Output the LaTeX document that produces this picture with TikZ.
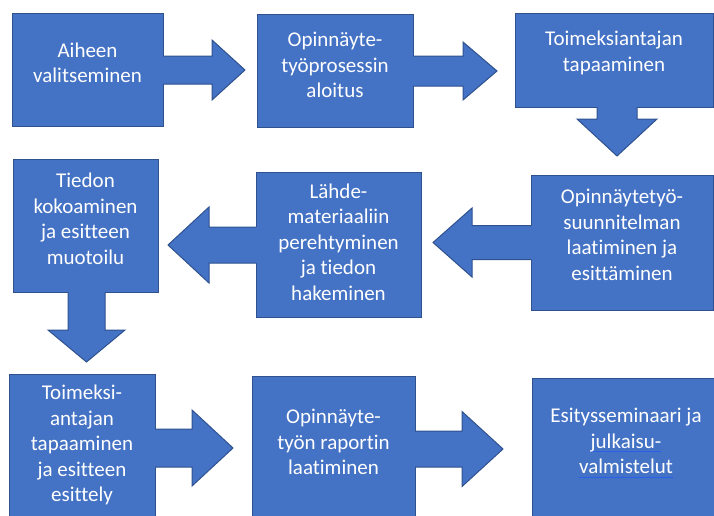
\documentclass[tikz,border=0pt]{standalone}
\usepackage{fontspec}
\setmainfont{Carlito}[Ligatures=NoCommon,RawFeature={-liga;-clig}]
\usetikzlibrary{calc}
\definecolor{boxblue}{HTML}{4472C4}
\definecolor{boxedge}{HTML}{2F528F}
\definecolor{ulblue}{HTML}{2A5FE8}
\newcommand\blueul[1]{\setbox0=\hbox{#1}\rlap{\color{ulblue}\rule[-3.5pt]{\wd0}{0.9pt}}\box0}
% right-pointing block arrow: box, tip, stem half, head half, head length
\newcommand\rarrow[5]{%
  \coordinate (s) at (#1.east|-#2);
  \fill[boxblue] ($(s)+(-1.2,-#3)$) -- ($(#2)+(-#5,-#3)$) -- ($(#2)+(-#5,-#4)$) -- (#2) -- ($(#2)+(-#5,#4)$) -- ($(#2)+(-#5,#3)$) -- ($(s)+(-1.2,#3)$) -- cycle;
  \draw[edge] ($(s)+(0,-#3)$) -- ($(#2)+(-#5,-#3)$) -- ($(#2)+(-#5,-#4)$) -- (#2) -- ($(#2)+(-#5,#4)$) -- ($(#2)+(-#5,#3)$) -- ($(s)+(0,#3)$);}
\newcommand\larrow[5]{%
  \coordinate (s) at (#1.west|-#2);
  \fill[boxblue] ($(s)+(1.2,-#3)$) -- ($(#2)+(#5,-#3)$) -- ($(#2)+(#5,-#4)$) -- (#2) -- ($(#2)+(#5,#4)$) -- ($(#2)+(#5,#3)$) -- ($(s)+(1.2,#3)$) -- cycle;
  \draw[edge] ($(s)+(0,-#3)$) -- ($(#2)+(#5,-#3)$) -- ($(#2)+(#5,-#4)$) -- (#2) -- ($(#2)+(#5,#4)$) -- ($(#2)+(#5,#3)$) -- ($(s)+(0,#3)$);}
\newcommand\darrow[5]{%
  \coordinate (s) at (#1.south-|#2);
  \fill[boxblue] ($(s)+(-#3,-1.2)$) -- ($(#2)+(-#3,-#5)$) -- ($(#2)+(-#4,-#5)$) -- (#2) -- ($(#2)+(#4,-#5)$) -- ($(#2)+(#3,-#5)$) -- ($(s)+(#3,-1.2)$) -- cycle;
  \draw[edge] ($(s)+(-#3,0)$) -- ($(#2)+(-#3,-#5)$) -- ($(#2)+(-#4,-#5)$) -- (#2) -- ($(#2)+(#4,-#5)$) -- ($(#2)+(#3,-#5)$) -- ($(s)+(#3,0)$);}
\begin{document}
\begin{tikzpicture}[x=1pt,y=-1pt,
  edge/.style={draw=boxedge, line width=1pt, line join=miter},
  box/.style={rectangle, fill=boxblue, draw=boxedge, line width=1pt, inner sep=0pt, outer sep=0pt},
  txt/.style={text=white, align=center, inner sep=0pt, font=\fontsize{21}{25.5}\selectfont}]
\useasboundingbox (0,0) rectangle (714,515);
\clip (0,0) rectangle (714,515);
% boxes
\node[box, minimum width=151pt, minimum height=113pt] (b1) at (87.5,69.5) {};
\node[box, minimum width=156pt, minimum height=113pt] (b2) at (335,70.5) {};
\node[box, minimum width=198pt, minimum height=94pt] (b3) at (614,60) {};
\node[box, minimum width=145pt, minimum height=133pt] (b4) at (85.5,225.5) {};
\node[box, minimum width=165pt, minimum height=145pt] (b5) at (338.5,244.5) {};
\node[box, minimum width=182pt, minimum height=135pt] (b6) at (622,242.5) {};
\node[box, minimum width=146pt, minimum height=151pt] (b7) at (82,449.5) {};
\node[box, minimum width=163pt, minimum height=149pt] (b8) at (333.5,450.5) {};
\node[box, minimum width=188pt, minimum height=147pt] (b9) at (626,451.5) {};
% arrow tips
\coordinate (t1) at (245,70);
\coordinate (t2) at (497,71);
\coordinate (t3) at (617,156);
\coordinate (t4) at (86.5,362);
\coordinate (t5) at (168,245);
\coordinate (t6) at (433,242.5);
\coordinate (t7) at (233,448);
\coordinate (t8) at (503,449);
\rarrow{b1}{t1}{14}{30}{33}
\rarrow{b2}{t2}{15}{29}{34}
\darrow{b3}{t3}{20}{40}{37}
\darrow{b4}{t4}{18.5}{38.5}{32}
\larrow{b5}{t5}{18}{38}{41}
\larrow{b6}{t6}{17}{34.5}{39}
\rarrow{b7}{t7}{19}{38}{41}
\rarrow{b8}{t8}{18}{37.5}{41}
% texts
\node[txt] (x1) at (87.5,63) {Aiheen\\valitseminen};
\node[txt] (x2) at (335,65) {Opinnäyte-\\työprosessin\\aloitus};
\node[txt] (x3) at (614,53) {Toimeksiantajan\\tapaaminen};
\node[txt] (x4) at (85.5,219) {Tiedon\\kokoaminen\\ja esitteen\\muotoilu};
\node[txt] (x5) at (338.5,242) {Lähde-\\materiaaliin\\perehtyminen\\ja tiedon\\hakeminen};
\node[txt] (x6) at (622,235) {Opinnäytetyö-\\suunnitelman\\laatiminen ja\\esittäminen};
\node[txt] (x7) at (82,445) {Toimeksi-\\antajan\\tapaaminen\\ja esitteen\\esittely};
\node[txt] (x8) at (333.5,442) {Opinnäyte-\\työn raportin\\laatiminen};
\node[txt] (x9) at (626,443) {Esitysseminaari ja\\\blueul{julkaisu-}\\\blueul{valmistelut}};
\end{tikzpicture}
\end{document}
